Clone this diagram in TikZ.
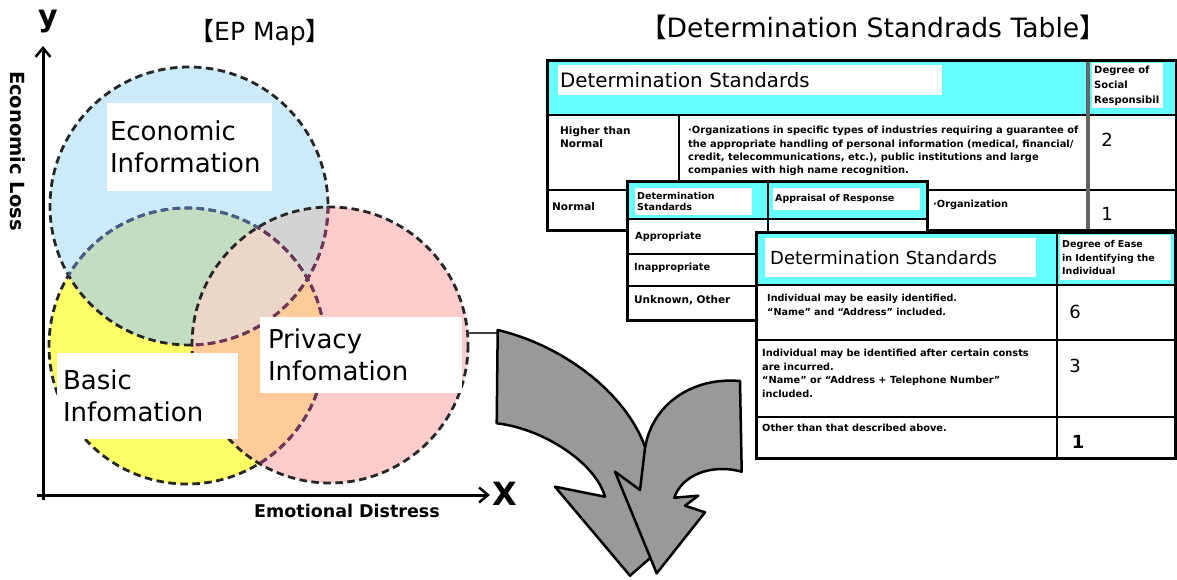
\documentclass[tikz,border=0pt]{standalone}
\usepackage{fontspec}
\setmainfont{DejaVu Sans}
\newfontfamily\cjk{Noto Sans CJK JP}
\usetikzlibrary{arrows.meta}
\definecolor{cblue}{RGB}{204,234,250}
\definecolor{cyellow}{RGB}{255,255,102}
\definecolor{cpink}{RGB}{255,204,204}
\definecolor{cgreen}{RGB}{194,221,194}
\definecolor{cgrey}{RGB}{211,211,211}
\definecolor{corange}{RGB}{255,204,153}
\definecolor{cbeige}{RGB}{235,214,200}
\definecolor{bluedash}{RGB}{70,95,140}
\definecolor{pinkdash}{RGB}{115,50,90}
\definecolor{cyanbg}{RGB}{102,255,255}
\definecolor{arrowgray}{RGB}{153,153,153}
\newcommand\fsz[2]{\fontsize{#1}{#2}\selectfont}
\begin{document}
\begin{tikzpicture}[x=1pt,y=-1pt,
  circ/.style={line width=2.8pt, dash pattern=on 7.5pt off 4.5pt, draw=black!85},
  lblbox/.style={fill=white, inner ysep=0pt, anchor=center, font=\fsz{26}{32}, align=left},
  tb/.style={font=\fsz{9.8}{11}\bfseries, inner sep=0pt, align=left, anchor=north west},
  hbox/.style={fill=white, inner ysep=0pt, anchor=north west, align=left},
  num/.style={font=\fsz{18}{20}, inner sep=0pt},
  border/.style={line width=3pt},
  gridl/.style={line width=2pt},
  bigarrow/.style={fill=arrowgray, draw=black, line width=2.5pt, line join=round},
  axis/.style={line width=3pt, -{Straight Barb[length=9pt,width=15pt,line width=2.5pt]}}
]
\useasboundingbox (0,0) rectangle (1177,579);
\fill[white] (0,0) rectangle (1177,579);

% ---------- circles ----------
\def\bluec{(189,206) circle[radius=139]}
\def\yelc{(187,346) circle[radius=138]}
\def\pinkc{(330,345) circle[radius=138]}
\fill[cyellow] \yelc;
\fill[cblue] \bluec;
\fill[cpink] \pinkc;
\begin{scope}
  \clip \bluec;
  \fill[cgreen] \yelc;
  \fill[cgrey] \pinkc;
\end{scope}
\begin{scope}
  \clip \yelc;
  \fill[corange] \pinkc;
\end{scope}
\begin{scope}
  \clip \bluec;
  \clip \yelc;
  \fill[cbeige] \pinkc;
\end{scope}
\draw[circ] \yelc;
\draw[circ] \bluec;
\draw[circ] \pinkc;
\begin{scope}
  \clip \bluec;
  \draw[circ, draw=bluedash] \yelc;
\end{scope}
\begin{scope}
  \clip \pinkc;
  \draw[circ, draw=pinkdash] \yelc;
  \draw[circ, draw=pinkdash] \bluec;
\end{scope}

% ---------- labels ----------
\node (econ) [lblbox, text width=159pt, inner xsep=3pt, minimum height=88pt] at (189.5,147) {Economic\\Information};
\node (priv) [lblbox, text width=186pt, inner xsep=8pt, minimum height=76pt] at (361,355) {Privacy\\Infomation};
\node (basic) [lblbox, text width=169pt, inner xsep=6pt, minimum height=86pt] at (147.5,396) {Basic\\Infomation};

% ---------- axes ----------
\coordinate (xs) at (37,495);
\coordinate (xe) at (490,495);
\coordinate (ys) at (43,500);
\coordinate (ye) at (43,46);
\draw[axis] (xs) -- (xe);
\draw[axis] (ys) -- (ye);
\node (ylab) at (48,22) [font=\fsz{30}{30}\bfseries, inner sep=0pt] {y};
\node (xlab) at (505,494) [font=\fsz{32}{32}\bfseries, inner sep=0pt] {X};
\node (eloss) at (18,151) [rotate=-90, font=\fsz{19.5}{20}\bfseries, inner sep=0pt] {Economic Loss};
\node (edist) at (347,511) [font=\fsz{17.5}{18}\bfseries, inner sep=0pt] {Emotional Distress};
\node (epmap) at (260,33) [font=\fsz{25}{26}, inner sep=0pt] {{\cjk 【}EP Map{\cjk 】}};
\node (ttitle) at (873,27) [font=\fsz{26.6}{28}, inner sep=0pt] {{\cjk 【}Determination Standrads Table{\cjk 】}};

% ---------- connector & big arrows ----------
\coordinate (pinkE) at (466,333);
\coordinate (arrW) at (497,333);
\draw[line width=1.2pt, black!75] (pinkE) -- (arrW);
\draw[bigarrow] (497.7,330) .. controls (561.7,345) and (625,391.7) .. (645,446.7)
  -- (648.3,501.7) -- (665,545) -- (630,575.7) -- (555,486.7) -- (605,496.7)
  .. controls (595,461.7) and (541.7,428.3) .. (496.7,423.3) -- cycle;
\draw[bigarrow] (740,381) .. controls (691.7,376.7) and (651.7,405) .. (645,448.3)
  -- (640,490) -- (615,471.7) -- (656.7,573.3) -- (705,512.3) -- (685,505.7)
  -- (698.3,495.7) -- (674.3,497.7)
  .. controls (681.7,475) and (711.7,463.3) .. (741.7,471.7) -- cycle;

% ---------- table 1 ----------
\fill[white] (547,60) rectangle (1176,230);
\fill[cyanbg] (547,60) rectangle (1176,115);
\node (t1h) [hbox, text width=380pt, inner xsep=2pt, minimum height=30pt, font=\fsz{19.8}{20}] at (558,65) {Determination Standards};
\node (t1r) [hbox, text width=67pt, inner xsep=2pt, minimum height=45pt, font=\fsz{10}{15}\bfseries] at (1092,63) {Degree of\\Social\\Responsibil};
\draw[gridl] (547,115) -- (1176,115);
\draw[gridl] (547,190) -- (1176,190);
\draw[gridl] (679,115) -- (679,230);
\draw[line width=3.5pt, black!60] (1088,60) -- (1088,230);
\draw[border] (547,60) rectangle (1176,230);
\node (t1hi) [tb, font=\fsz{10.5}{13.3}\bfseries] at (560,126) {Higher than\\Normal};
\node (t1org) [tb, font=\fsz{9.9}{13.3}\bfseries] at (688,126) {·Organizations in specific types of industries requiring a guarantee of\\the appropriate handling of personal information (medical, financial/\\credit, telecommunications, etc.), public institutions and large\\companies with high name recognition.};
\node (t1two) [num] at (1107,140) {2};
\node (t1nm) [tb, anchor=west, font=\fsz{10.5}{11}\bfseries] at (552,207) {Normal};
\node (t1og) [tb, anchor=west] at (933,205) {·Organization};
\node (t1one) [num] at (1107,214) {1};

% ---------- table 2 ----------
\fill[white] (627,181) rectangle (927,320);
\fill[cyanbg] (627,181) rectangle (927,219);
\node (t2h) [hbox, text width=113pt, inner xsep=2pt, minimum height=27pt, font=\fsz{9.5}{11}\bfseries] at (635,188) {Determination\\Standards};
\node (t2a) [hbox, text width=143pt, inner xsep=2pt, minimum height=22pt, font=\fsz{9.5}{11}\bfseries] at (773,188) {Appraisal of Response};
\draw[gridl] (627,219) -- (927,219);
\draw[gridl] (768,181) -- (768,320);
\draw[gridl] (627,254) -- (927,254);
\draw[gridl] (627,286) -- (927,286);
\draw[border] (627,181) rectangle (927,320);
\node (t2ap) [tb, anchor=west] at (635,237) {Appropriate};
\node (t2in) [tb, anchor=west] at (634,268) {Inappropriate};
\node (t2un) [tb, anchor=west, font=\fsz{10.5}{11}\bfseries] at (634,300) {Unknown, Other};

% ---------- table 3 ----------
\fill[white] (756,232) rectangle (1175,458);
\fill[cyanbg] (756,232) rectangle (1175,285);
\node (t3h) [hbox, text width=261pt, inner xsep=5pt, minimum height=39pt, font=\fsz{18}{20}] at (765,238) {Determination Standards};
\node (t3r) [hbox, text width=107pt, inner xsep=2pt, minimum height=45pt, font=\fsz{9.5}{13.5}\bfseries] at (1060,235) {Degree of Ease\\in Identifying the\\Individual};
\draw[gridl] (756,285) -- (1175,285);
\draw[gridl] (756,340) -- (1175,340);
\draw[gridl] (756,417) -- (1175,417);
\draw[gridl] (1057,232) -- (1057,458);
\draw[border] (756,232) rectangle (1175,458);
\node (t3r1) [tb, font=\fsz{9.6}{14}\bfseries] at (767,294) {Individual may be easily identified.\\“Name” and “Address” included.};
\node (t3r2) [tb, font=\fsz{9.8}{13.5}\bfseries] at (762,349) {Individual may be identified after certain consts\\are incurred.\\“Name” or “Address + Telephone Number”\\included.};
\node (t3r3) [tb] at (762,424) {Other than that described above.};
\node (t3six) [num] at (1075,312) {6};
\node (t3three) [num] at (1075,366) {3};
\node (t3one) [num, font=\fsz{18}{20}\bfseries] at (1078,442) {1};
\end{tikzpicture}
\end{document}
